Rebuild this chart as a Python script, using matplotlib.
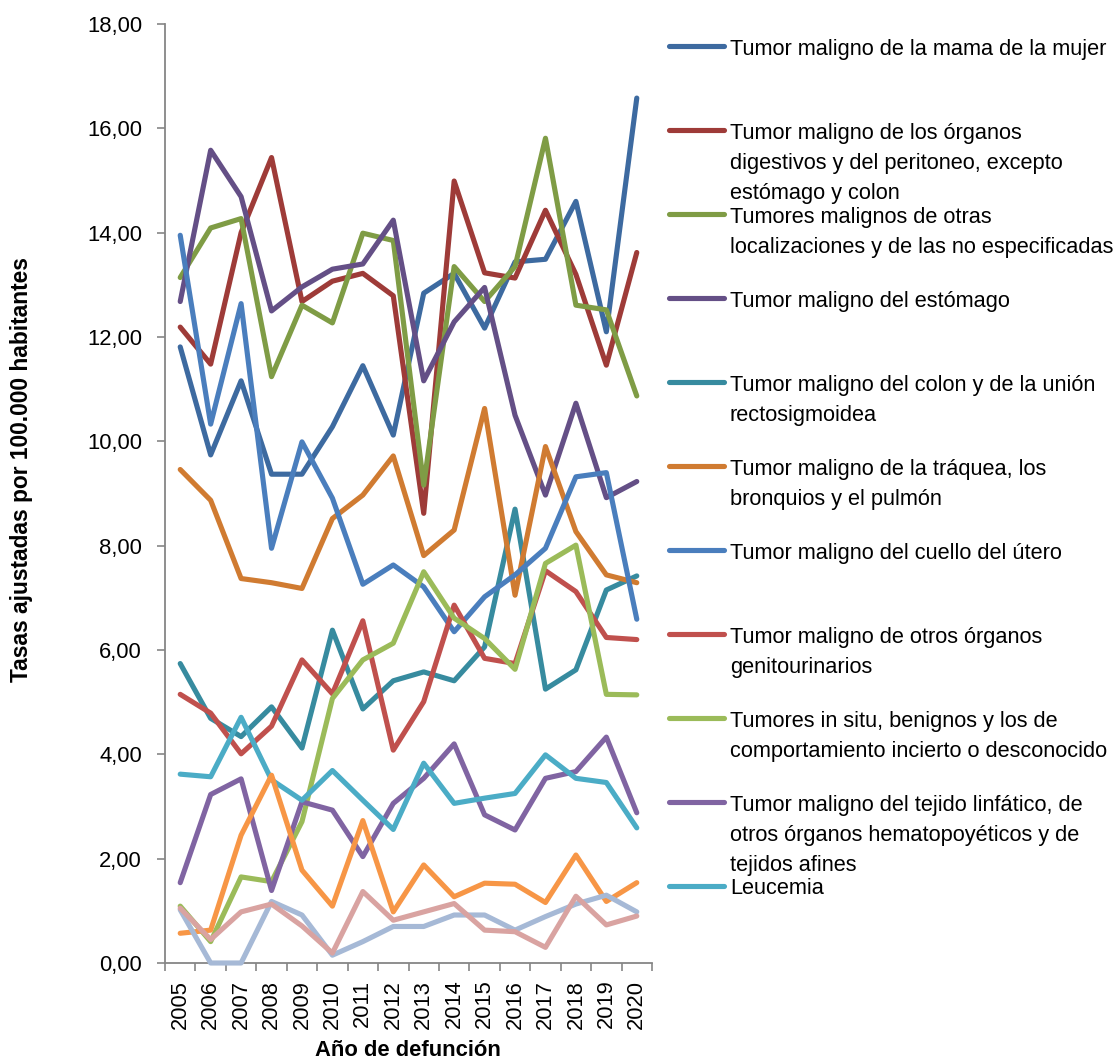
import matplotlib
matplotlib.use("Agg")
import matplotlib.pyplot as plt
from matplotlib import font_manager as fm
from matplotlib.lines import Line2D
from matplotlib.ticker import FixedLocator, FuncFormatter

# ---------------- data ----------------
years = ["2005", "2006", "2007", "2008", "2009", "2010", "2011", "2012",
         "2013", "2014", "2015", "2016", "2017", "2018", "2019", "2020"]

mama = [11.81, 9.74, 11.16, 9.37, 9.37, 10.28, 11.45, 10.12, 12.84, 13.22, 12.17, 13.44, 13.49, 14.60, 12.10, 16.58]
digestivos = [12.19, 11.48, 14.00, 15.44, 12.68, 13.07, 13.22, 12.79, 8.62, 14.99, 13.23, 13.13, 14.43, 13.20, 11.46, 13.62]
otras_loc = [13.14, 14.09, 14.27, 11.24, 12.61, 12.27, 13.99, 13.85, 9.16, 13.35, 12.68, 13.35, 15.81, 12.61, 12.52, 10.87]
estomago = [12.68, 15.58, 14.69, 12.50, 12.96, 13.30, 13.40, 14.24, 11.16, 12.29, 12.95, 10.50, 8.97, 10.73, 8.92, 9.23]
colon = [5.74, 4.69, 4.34, 4.91, 4.12, 6.38, 4.87, 5.41, 5.58, 5.41, 6.06, 8.70, 5.25, 5.62, 7.15, 7.42]
traquea = [9.46, 8.87, 7.37, 7.29, 7.18, 8.52, 8.97, 9.72, 7.81, 8.30, 10.63, 7.05, 9.90, 8.27, 7.44, 7.29]
cuello = [13.95, 10.33, 12.64, 7.95, 9.99, 8.91, 7.26, 7.63, 7.21, 6.35, 7.02, 7.44, 7.95, 9.32, 9.40, 6.59]
genitourinarios = [5.15, 4.79, 4.01, 4.54, 5.81, 5.16, 6.56, 4.08, 5.01, 6.86, 5.84, 5.74, 7.52, 7.12, 6.24, 6.20]
in_situ = [1.09, 0.41, 1.65, 1.56, 2.71, 5.07, 5.81, 6.13, 7.50, 6.61, 6.22, 5.63, 7.66, 8.01, 5.15, 5.14]
linfatico = [1.54, 3.23, 3.53, 1.39, 3.09, 2.93, 2.04, 3.06, 3.54, 4.20, 2.84, 2.55, 3.54, 3.67, 4.33, 2.88]
leucemia = [3.62, 3.57, 4.71, 3.51, 3.12, 3.69, 3.12, 2.56, 3.83, 3.06, 3.16, 3.25, 3.99, 3.54, 3.46, 2.59]
serie_12 = [0.57, 0.63, 2.45, 3.60, 1.78, 1.09, 2.73, 0.98, 1.88, 1.27, 1.53, 1.51, 1.16, 2.07, 1.18, 1.54]
serie_13 = [1.02, 0.00, 0.00, 1.18, 0.92, 0.15, 0.41, 0.70, 0.70, 0.92, 0.92, 0.63, 0.89, 1.13, 1.30, 0.98]
serie_14 = [1.05, 0.45, 0.98, 1.13, 0.71, 0.19, 1.37, 0.82, 0.98, 1.14, 0.63, 0.60, 0.30, 1.28, 0.73, 0.90]

labels = [
    "Tumor maligno de la mama de la mujer",
    "Tumor maligno de los órganos\ndigestivos y del peritoneo, excepto\nestómago y colon",
    "Tumores malignos de otras\nlocalizaciones y de las no especificadas",
    "Tumor maligno del estómago",
    "Tumor maligno del colon y de la unión\nrectosigmoidea",
    "Tumor maligno de la tráquea, los\nbronquios y el pulmón",
    "Tumor maligno del cuello del útero",
    "Tumor maligno de otros órganos\ngenitourinarios",
    "Tumores in situ, benignos y los de\ncomportamiento incierto o desconocido",
    "Tumor maligno del tejido linfático, de\notros órganos hematopoyéticos y de\ntejidos afines",
    "Leucemia",
    None, None, None,
]

series = [mama, digestivos, otras_loc, estomago, colon, traquea, cuello,
          genitourinarios, in_situ, linfatico, leucemia, serie_12, serie_13, serie_14]

colors = ["#3D6AA0", "#9E3B38", "#7F9C45", "#644F86", "#378B9F", "#D07B31",
          "#4A7EBD", "#C0504D", "#9BBB59", "#8064A2", "#4BACC6", "#F79646",
          "#A6B9D6", "#D9A3A1"]

y_ticks = [0, 2, 4, 6, 8, 10, 12, 14, 16, 18]

# ---------------- fonts ----------------
def has_font(name):
    try:
        fm.findfont(fm.FontProperties(family=name), fallback_to_default=False)
        return True
    except Exception:
        return False

REG = "Liberation Sans" if has_font("Liberation Sans") else "DejaVu Sans"
if has_font("Liberation Sans Narrow"):
    NAR, nscale = "Liberation Sans Narrow", 1.0
else:
    NAR, nscale = REG, 0.85

# ---------------- figure ----------------
W, H, DPI = 1118, 1063, 100
fig = plt.figure(figsize=(W / DPI, H / DPI), dpi=DPI)
fig.patch.set_facecolor("white")

left, right, top, bottom = 165, 652, 24, 963
ax = fig.add_axes([left / W, 1 - bottom / H, (right - left) / W, (bottom - top) / H])

x = list(range(len(years)))
for vals, col in zip(series, colors):
    ax.plot(x, vals, color=col, lw=3.7, solid_joinstyle="round",
            solid_capstyle="round", clip_on=False, zorder=3)

ax.set_xlim(-0.5, len(years) - 0.5)
ax.set_ylim(0, 18)

for s in ["top", "right"]:
    ax.spines[s].set_visible(False)
for s in ["left", "bottom"]:
    ax.spines[s].set_color("#868686")
    ax.spines[s].set_linewidth(1.3)
    ax.spines[s].set_zorder(1)

ax.yaxis.set_major_locator(FixedLocator(y_ticks))
ax.yaxis.set_major_formatter(FuncFormatter(lambda v, p: f"{v:.2f}".replace(".", ",")))
ax.tick_params(axis="y", direction="out", length=5.5, width=1.2, color="#868686",
               pad=11, labelsize=15.8, labelcolor="black")
for lab in ax.get_yticklabels():
    lab.set_fontfamily(REG)

ax.set_xticks(x)
ax.set_xticklabels(years, rotation=90, fontfamily=NAR, fontsize=18.5 * nscale)
ax.set_xticks([i - 0.5 for i in range(len(years) + 1)], minor=True)
ax.tick_params(axis="x", which="major", length=0, pad=12, labelcolor="black")
ax.tick_params(axis="x", which="minor", direction="out", length=5.5, width=1.2,
               color="#868686")

# axis titles
fig.text(22 / W, 1 - 470 / H, "Tasas ajustadas por 100.000 habitantes",
         rotation=90, ha="center", va="center", fontfamily=NAR,
         fontweight="bold", fontsize=19.3 * nscale)
fig.text(408 / W, 1 - 1050 / H, "Año de defunción", ha="center", va="center",
         fontfamily=REG, fontweight="bold", fontsize=15.8)

# legend (drawn manually to match the fixed-slot layout)
for i, (lab, col) in enumerate(zip(labels, colors)):
    if lab is None:
        continue
    ly = 46 + 84 * i
    fig.add_artist(Line2D([669 / W, 724 / W], [1 - ly / H, 1 - ly / H],
                          transform=fig.transFigure, color=col, lw=3.7,
                          solid_capstyle="round"))
    for j, line in enumerate(lab.split("\n")):
        base = ly + 8.5 + 30.3 * j
        fig.text(730 / W, 1 - base / H, line, ha="left", va="baseline",
                 fontfamily=REG, fontsize=15.7, color="black")

fig.savefig("out.png", dpi=DPI, facecolor="white")
